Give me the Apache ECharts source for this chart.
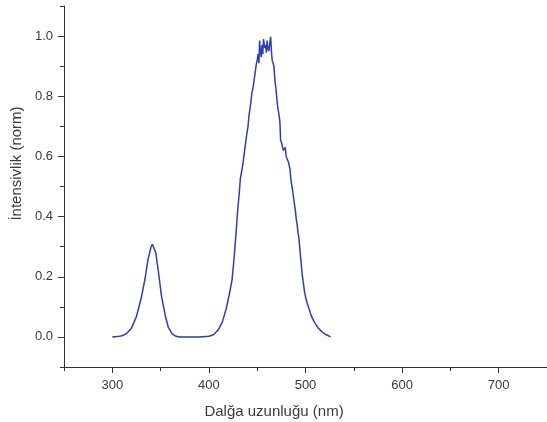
<!DOCTYPE html>
<html>
<head>
<meta charset="utf-8">
<script src="https://cdn.jsdelivr.net/npm/echarts@6/dist/echarts.min.js"></script>
<style>
  html, body { margin: 0; padding: 0; background: #fff; }
  #spektr { width: 547px; height: 422px; }
</style>
</head>
<body>
<div id="spektr"></div>
<script>
// dalga boyu (nm)
var dalgaBoyu = [300, 305, 310, 315, 320, 325, 330, 334, 337, 340, 341.5, 343, 345, 348, 351, 355, 358, 362, 366, 370,
  380, 390, 400, 405, 410, 414, 418, 421, 424, 426, 428, 430, 431.5, 432.5, 433.5, 435, 437, 439, 440.5, 441.5,
  443, 444.5, 446, 447.5, 449, 450, 451, 451.8, 452.5, 453.3, 454.2, 455, 455.8, 456.5, 457.3, 458, 458.8, 459.5,
  460.3, 461, 462, 463, 463.9, 464.7, 465.5, 466.5, 467.3, 468.3, 469.2, 470.1, 471, 471.7, 472.5, 473.5, 474.2,
  475.2, 476, 477, 478, 479, 480, 481.2, 482.5, 484, 485, 486.5, 488, 489.5, 490.5, 491.5, 492.3, 493.1, 494.5,
  496.5, 499, 501, 503.5, 506, 509, 513, 517, 521, 526];
// normalize intensivlik
var intensivlik = [0.0, 0.001, 0.004, 0.012, 0.03, 0.068, 0.13, 0.195, 0.258, 0.298, 0.308, 0.304, 0.28, 0.21, 0.135, 0.068, 0.032, 0.01, 0.002, 0.0,
  0.0, 0.0, 0.002, 0.008, 0.025, 0.05, 0.095, 0.14, 0.19, 0.26, 0.34, 0.43, 0.48, 0.525, 0.52, 0.57, 0.62, 0.67, 0.70, 0.735,
  0.77, 0.81, 0.835, 0.87, 0.905, 0.92, 0.94, 0.91, 0.985, 0.95, 0.93, 0.97, 0.94, 0.99, 0.995, 0.96, 0.97, 0.945,
  0.985, 0.96, 0.95, 0.975, 0.998, 0.95, 0.92, 0.925, 0.9, 0.855, 0.83, 0.80, 0.77, 0.755, 0.74, 0.715, 0.655,
  0.645, 0.635, 0.62, 0.615, 0.63, 0.6, 0.6, 0.58, 0.555, 0.52, 0.49, 0.455, 0.42, 0.39, 0.37, 0.345, 0.33, 0.28,
  0.21, 0.15, 0.12, 0.095, 0.07, 0.05, 0.03, 0.017, 0.008, 0.0];

var xEtiket = [300, 400, 500, 600, 700];
var xAra = [250, 350, 450, 550, 650, 750];
var yEtiket = [0, 0.2, 0.4, 0.6, 0.8, 1.0];
var yAra = [-0.1, 0.1, 0.3, 0.5, 0.7, 0.9, 1.1];

var veri = [];
for (var i = 0; i < dalgaBoyu.length; i++) {
  veri.push([dalgaBoyu[i], intensivlik[i]]);
}

var yaziRenk = '#3a3a3a';

var grafik = echarts.init(document.getElementById('spektr'));
var option = {
  animation: false,
  textStyle: { fontFamily: 'Liberation Sans, Arial, sans-serif' },
  grid: { left: 64, right: 0, top: 6, bottom: 55, containLabel: false, outerBoundsMode: 'none' },
  xAxis: [{
    type: 'value',
    min: 250,
    max: 750,
    name: 'Dalğa uzunluğu (nm)',
    nameLocation: 'middle',
    nameGap: 37,
    nameTextStyle: { fontSize: 15, color: yaziRenk, padding: [0, 63, 0, 0] },
    splitLine: { show: false },
    axisLine: { onZero: false, lineStyle: { color: '#333', width: 1 } },
    axisTick: { length: 6, customValues: xEtiket, lineStyle: { color: '#333' } },
    axisLabel: { customValues: xEtiket, fontSize: 13, color: yaziRenk, margin: 12 }
  }, {
    // ara cizgiler
    type: 'value',
    min: 250,
    max: 750,
    position: 'bottom',
    splitLine: { show: false },
    axisLine: { show: false, onZero: false },
    axisTick: { length: 4, customValues: xAra, lineStyle: { color: '#333' } },
    axisLabel: { show: false }
  }],
  yAxis: [{
    type: 'value',
    min: -0.1,
    max: 1.1,
    name: 'İntensivlik (norm)',
    nameLocation: 'middle',
    nameGap: 40,
    nameTextStyle: { fontSize: 15, color: yaziRenk, padding: [0, 0, 0, 46] },
    splitLine: { show: false },
    axisLine: { show: true, onZero: false, lineStyle: { color: '#333', width: 1 } },
    axisTick: { show: true, length: 6, customValues: yEtiket, lineStyle: { color: '#333' } },
    axisLabel: {
      customValues: yEtiket, fontSize: 13, color: yaziRenk, margin: 11,
      formatter: function (v) { return v.toFixed(1); }
    }
  }, {
    type: 'value',
    min: -0.1,
    max: 1.1,
    position: 'left',
    splitLine: { show: false },
    axisLine: { show: false, onZero: false },
    axisTick: { show: true, length: 4, customValues: yAra, lineStyle: { color: '#333' } },
    axisLabel: { show: false }
  }],
  series: [{
    type: 'line',
    data: veri,
    showSymbol: false,
    smooth: false,
    lineStyle: { color: '#2b3fae', width: 1.5 }
  }]
};
grafik.setOption(option);
</script>
</body>
</html>
